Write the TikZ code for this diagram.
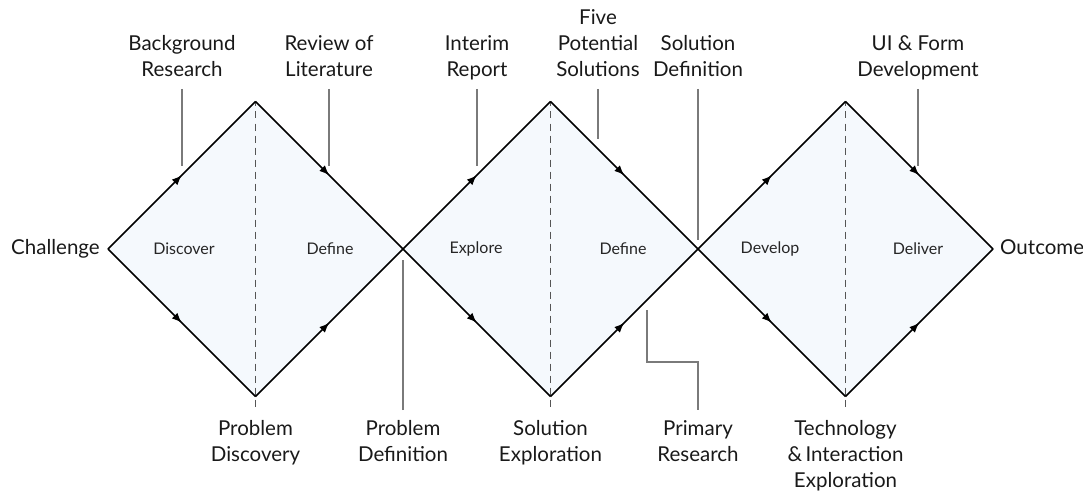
\documentclass[tikz,border=0pt]{standalone}
\usepackage{fontspec}
\setmainfont{Lato}
\usetikzlibrary{arrows.meta,decorations.markings}
\definecolor{phasefill}{HTML}{F5F9FD}
\definecolor{leadergray}{HTML}{7A7A7A}
\definecolor{axisgray}{HTML}{555555}
\begin{document}
\begin{tikzpicture}[x=1pt,y=-1pt,
  edge/.style={line width=1.5pt, black,
    postaction={decorate},
    decoration={markings, mark=at position 0.5 with {\arrow{Latex[length=10pt,width=8pt]}}}},
  axis/.style={axisgray, line width=1.1pt, dash pattern=on 7pt off 5pt, dash phase=-10pt},
  leader/.style={leadergray, line width=1.3pt},
  lbl/.style={font=\fontsize{20.5}{26}\selectfont, align=center, inner xsep=0pt,
    execute at begin node=\strut, execute at end node=\strut, text=black!90},
  toplbl/.style={lbl, anchor=south, inner ysep=4pt},
  botlbl/.style={lbl, anchor=north, inner ysep=10pt},
  phase/.style={font=\fontsize{16}{20}\selectfont, text=black!85, inner sep=0pt}]
\useasboundingbox (0,0) rectangle (1083,492);
% vertices of the three diamonds
\coordinate (L1) at (108,249);
\coordinate (T1) at (255.5,101.5);
\coordinate (B1) at (255.5,396.5);
\coordinate (M1) at (403,249);
\coordinate (T2) at (550.5,101.5);
\coordinate (B2) at (550.5,396.5);
\coordinate (M2) at (698,249);
\coordinate (T3) at (845.5,101.5);
\coordinate (B3) at (845.5,396.5);
\coordinate (R)  at (993,249);
% fills
\fill[phasefill] (L1) -- (T1) -- (M1) -- (B1) -- cycle;
\fill[phasefill] (M1) -- (T2) -- (M2) -- (B2) -- cycle;
\fill[phasefill] (M2) -- (T3) -- (R) -- (B3) -- cycle;
% bottom label nodes
\node[botlbl] (pdisc) at (255.5,410) {Problem\\Discovery};
\node[botlbl] (pdef)  at (403,410)   {Problem\\Definition};
\node[botlbl] (sexp)  at (550.5,410) {Solution\\Exploration};
\node[botlbl] (prim)  at (698,410)   {Primary\\Research};
\node[botlbl] (tech)  at (845.5,410) {Technology\\\&\,Interaction\\Exploration};
% centre axes
\draw[axis] (T1) -- (pdisc.north);
\draw[axis] (T2) -- (sexp.north);
\draw[axis] (T3) -- (tech.north);
% diamond edges
\draw[edge] (L1) -- (T1);
\draw[edge] (T1) -- (M1);
\draw[edge] (L1) -- (B1);
\draw[edge] (B1) -- (M1);
\draw[edge] (M1) -- (T2);
\draw[edge] (T2) -- (M2);
\draw[edge] (M1) -- (B2);
\draw[edge] (B2) -- (M2);
\draw[edge] (M2) -- (T3);
\draw[edge] (T3) -- (R);
\draw[edge] (M2) -- (B3);
\draw[edge] (B3) -- (R);
% end labels
\node[lbl, anchor=east] (chal) at (100,249) {Challenge};
\node[lbl, anchor=west] (outc) at (1000,249) {Outcome};
% phase labels
\node[phase] (ph1) at (184,249) {Discover};
\node[phase] (ph2) at (330,249) {Define};
\node[phase] (ph3) at (476,249) {Explore};
\node[phase] (ph4) at (623,249) {Define};
\node[phase] (ph5) at (770,249) {Develop};
\node[phase] (ph6) at (918,249) {Deliver};
% top labels
\node[toplbl] (bg)   at (182,89) {Background\\Research};
\node[toplbl] (rev)  at (329,89) {Review of\\Literature};
\node[toplbl] (inter) at (477,89) {Interim\\Report};
\node[toplbl] (five) at (598,89) {Five\\Potential\\Solutions};
\node[toplbl] (sdef) at (698,89) {Solution\\Definition};
\node[toplbl] (ui)   at (918,89) {UI \& Form\\Development};
% leader end points
\coordinate (bgE)   at (182,166);
\coordinate (revE)  at (329,166);
\coordinate (interE) at (477,166);
\coordinate (fiveE) at (598,139);
\coordinate (sdefE) at (698,240);
\coordinate (uiE)   at (918,166);
\coordinate (pdefE) at (403,260);
\coordinate (primE) at (647,310);
% leaders
\draw[leader] (bg.south) -- (bgE);
\draw[leader] (rev.south) -- (revE);
\draw[leader] (inter.south) -- (interE);
\draw[leader] (five.south) -- (fiveE);
\draw[leader] (sdef.south) -- (sdefE);
\draw[leader] (ui.south) -- (uiE);
\draw[leader] (pdef.north) -- (pdefE);
\draw[leader] (primE) -- ++(0,52) -| (prim.north);
\end{tikzpicture}
\end{document}
